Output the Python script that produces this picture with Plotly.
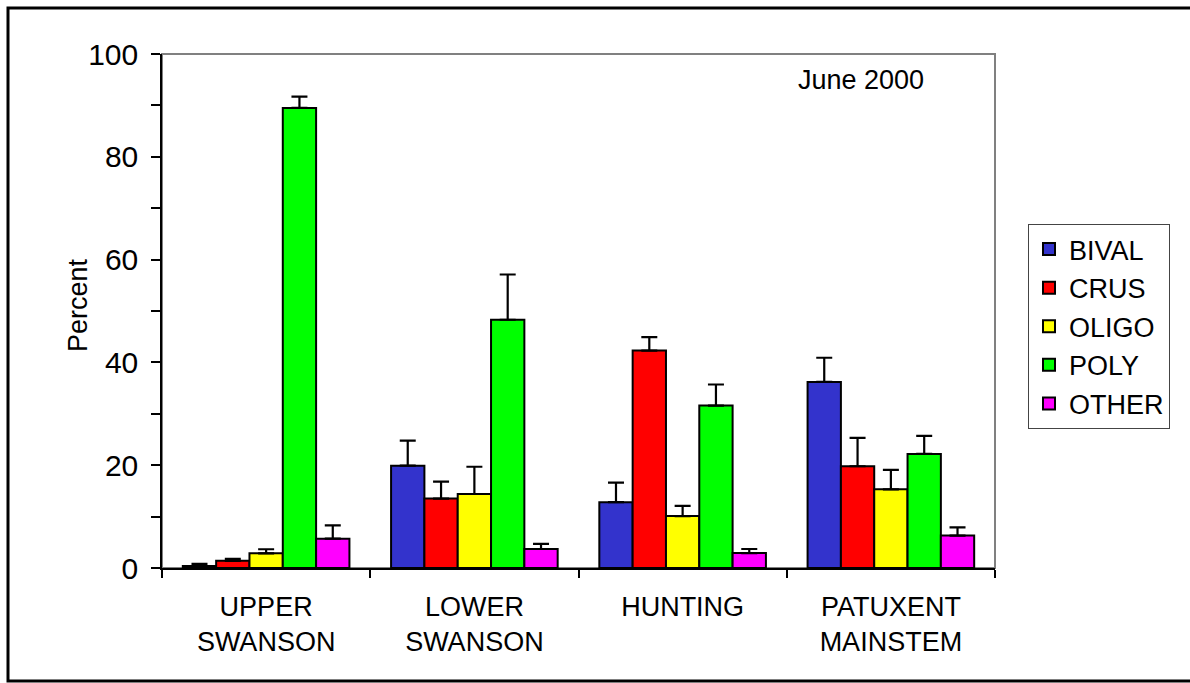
import plotly.graph_objects as go

categories = ["UPPER<br>SWANSON", "LOWER<br>SWANSON", "HUNTING", "PATUXENT<br>MAINSTEM"]
series_names = ["BIVAL", "CRUS", "OLIGO", "POLY", "OTHER"]
bival = [0.4, 19.9, 12.8, 36.2]
bival_err = [0.4, 4.9, 3.8, 4.7]
crus = [1.4, 13.5, 42.3, 19.8]
crus_err = [0.4, 3.3, 2.6, 5.5]
oligo = [2.85, 14.4, 10.1, 15.3]
oligo_err = [0.8, 5.3, 2.0, 3.8]
poly = [89.5, 48.3, 31.6, 22.2]
poly_err = [2.2, 8.8, 4.1, 3.5]
other = [5.7, 3.7, 2.9, 6.3]
other_err = [2.6, 1.0, 0.8, 1.6]
colors = ["#3333CC", "#FF0000", "#FFFF00", "#00FF00", "#FF00FF"]
y_ticks = [0, 20, 40, 60, 80, 100]

values = [bival, crus, oligo, poly, other]
errors = [bival_err, crus_err, oligo_err, poly_err, other_err]

FONT = "Liberation Sans, Arial, sans-serif"

fig = go.Figure()
for name, vals, errs, col in zip(series_names, values, errors, colors):
    fig.add_trace(go.Bar(
        x=categories, y=vals, name=name,
        marker=dict(color=col, line=dict(color="black", width=2)),
        error_y=dict(type="data", symmetric=False, array=errs,
                     arrayminus=[0] * len(errs), color="black",
                     thickness=2.2, width=8),
        legendgroup=name,
    ))

W, H = 1190, 683
L, R, T, B = 162, 995, 54, 568
pw, ph = R - L, B - T

def px_x(x):
    return (x - L) / pw

def px_y(y):
    return (B - y) / ph

fig.update_layout(
    width=W, height=H,
    margin=dict(l=L, r=W - R, t=T, b=H - B, autoexpand=False),
    paper_bgcolor="white", plot_bgcolor="white",
    font=dict(family=FONT, color="black"),
    barmode="group", bargap=0.2, bargroupgap=0,
    showlegend=True,
    legend=dict(
        x=px_x(1028), y=px_y(224), xanchor="left", yanchor="top",
        font=dict(size=27, family=FONT, color="black"),
        bordercolor="#444444", borderwidth=1, bgcolor="white",
        tracegroupgap=0.5, itemwidth=30,
    ),
    xaxis=dict(
        type="category", showline=True, linecolor="black", linewidth=1.5,
        ticks="outside", tickson="boundaries", ticklen=8, tickcolor="black",
        tickwidth=1.5, tickfont=dict(size=27, family=FONT),
        showgrid=False, zeroline=False, ticklabelstandoff=14,
    ),
    yaxis=dict(
        range=[0, 100], tickvals=y_ticks, showline=True, linecolor="black",
        linewidth=1.5, ticks="outside", ticklen=9, tickcolor="black",
        tickwidth=1.5, tickfont=dict(size=30, family=FONT),
        minor=dict(ticks="outside", ticklen=9, dtick=10, tickcolor="black", tickwidth=1.5),
        showgrid=False, zeroline=False, ticklabelstandoff=7,
    ),
    shapes=[
        dict(type="rect", xref="paper", yref="paper", x0=0, x1=1, y0=0, y1=1,
             line=dict(color="#808080", width=2), layer="below"),
        dict(type="rect", xref="paper", yref="paper",
             x0=px_x(8), x1=px_x(1200), y0=px_y(681), y1=px_y(8),
             line=dict(color="black", width=3), layer="below"),
    ],
    annotations=[
        dict(text="June 2000", xref="paper", yref="paper",
             x=px_x(861), y=px_y(80), xanchor="center", yanchor="middle",
             showarrow=False,
             font=dict(size=27, family=FONT, color="black")),
        dict(text="Percent", xref="paper", yref="paper", textangle=-90,
             x=px_x(78), y=px_y(305), xanchor="center", yanchor="middle",
             showarrow=False,
             font=dict(size=27, family=FONT, color="black")),
    ],
)

fig.write_html("out.html", post_script="document.body.style.margin='0';",
               config={"displayModeBar": False})
